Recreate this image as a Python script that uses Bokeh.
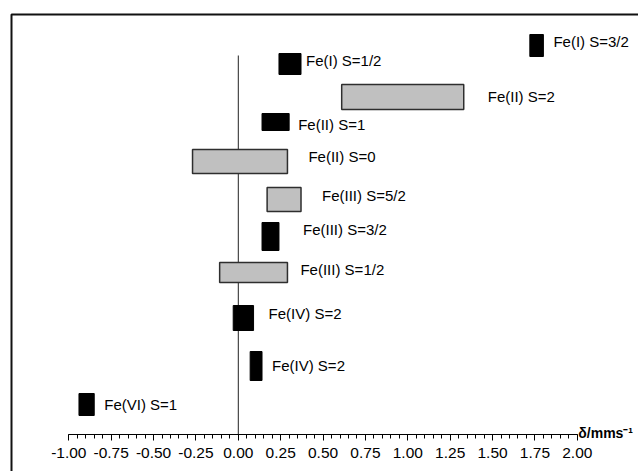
from bokeh.plotting import figure
from bokeh.models import (Range1d, LinearAxis, SingleIntervalTicker,
                          PrintfTickFormatter, BoxAnnotation, ColumnDataSource)
from bokeh.core.properties import value
from bokeh.embed import file_html
from bokeh.resources import INLINE

# ---------------- data ----------------
labels = ["Fe(I) S=3/2", "Fe(I) S=1/2", "Fe(II) S=2", "Fe(II) S=1",
          "Fe(II) S=0", "Fe(III) S=5/2", "Fe(III) S=3/2", "Fe(III) S=1/2",
          "Fe(IV) S=2", "Fe(IV) S=2", "Fe(VI) S=1"]
delta_min = [1.72, 0.24, 0.61, 0.14, -0.27, 0.17, 0.14, -0.11, -0.03, 0.07, -0.94]
delta_max = [1.80, 0.37, 1.33, 0.30, 0.29, 0.37, 0.24, 0.29, 0.09, 0.14, -0.85]
bar_kind = ["black", "black", "grey", "black", "grey", "grey",
            "black", "grey", "black", "black", "black"]
tick_step = 0.25
axis_bounds = (-1.0, 2.0)
axis_title = "δ/mms⁻¹"

# ---------------- layout (pixels / row units) ----------------
W, H = 638, 471
ZERO_PX = 237.8          # pixel x of delta = 0
PX_PER_UNIT = 169.5      # pixels per mm/s
AXIS_PY = 434            # pixel y of the axis line
ROW_PY = [45, 63.5, 96.5, 121.5, 161, 199, 236, 272, 317.5, 365.5, 404]
ROW_HPX = [22, 21, 25, 17, 24, 24, 28, 20, 25, 29, 22]
LABEL_DX = [10, 5, 24, 9, 21, 21, 24, 13, 15, 10, 10]
LABEL_DY = [-4, -4, -1, 2, -5, -4, -7, -3, -5, -1, 0]
ZERO_LINE_TOP_PY = 55

def py_to_y(py):
    return (AXIS_PY - py) / 10.0

yc = [py_to_y(v) for v in ROW_PY]
hh = [v / 20.0 for v in ROW_HPX]
fill_map = {"black": "black", "grey": "#c0c0c0"}
line_map = {"black": "black", "grey": "#2e2e2e"}

src = ColumnDataSource(dict(
    left=delta_min, right=delta_max,
    top=[c + h for c, h in zip(yc, hh)],
    bottom=[c - h for c, h in zip(yc, hh)],
    yc=yc, label=labels, dx=LABEL_DX, dy=LABEL_DY,
    fill=[fill_map[k] for k in bar_kind],
    line=[line_map[k] for k in bar_kind],
    lw=[1 if k == "black" else 1.5 for k in bar_kind],
))

x_start = -ZERO_PX / PX_PER_UNIT
x_end = (W - ZERO_PX) / PX_PER_UNIT

p = figure(width=W, height=H,
           x_range=Range1d(x_start, x_end),
           y_range=Range1d(py_to_y(H), py_to_y(0)),
           output_backend="svg", toolbar_location=None,
           x_axis_location=None, y_axis_location=None,
           min_border=0)
p.outline_line_color = None
p.grid.visible = False
p.background_fill_color = "white"
p.border_fill_color = "white"

# frame border (top and left only visible)
p.add_layout(BoxAnnotation(left=11, right=W + 20, top=14, bottom=H + 20,
                           left_units="canvas", right_units="canvas",
                           top_units="canvas", bottom_units="canvas",
                           fill_alpha=0, fill_color=None,
                           line_color="#111111", line_alpha=1.0, line_width=2))

# zero line
p.segment(x0=[0], y0=[0], x1=[0], y1=[py_to_y(ZERO_LINE_TOP_PY)],
          line_color="#222222", line_width=1)

# bars
p.quad(left="left", right="right", top="top", bottom="bottom", source=src,
       fill_color="fill", line_color="line", line_width="lw")

# labels
p.text(x="right", y="yc", text="label", x_offset="dx", y_offset="dy",
       source=src, text_font=value("Liberation Sans"), text_font_size="15px",
       text_baseline="middle", text_align="left", text_color="black")

# x axis drawn at delta-axis position
ax = LinearAxis(fixed_location=0, bounds=axis_bounds,
                ticker=SingleIntervalTicker(interval=tick_step, num_minor_ticks=5),
                formatter=PrintfTickFormatter(format="%.2f"))
ax.axis_line_color = "black"
ax.axis_line_width = 1
ax.major_tick_in = 0
ax.major_tick_out = 6
ax.minor_tick_in = 0
ax.minor_tick_out = 4
ax.major_tick_line_color = "black"
ax.minor_tick_line_color = "black"
ax.major_label_standoff = 7
ax.major_label_text_font = "Liberation Sans"
ax.major_label_text_font_size = "15.5px"
ax.major_label_text_color = "black"
p.add_layout(ax, "below")

# axis title
p.text(x=[axis_bounds[1]], y=[0], text=[axis_title], x_offset=[1], y_offset=[-2],
       text_font=value("Liberation Sans"), text_font_size="14px",
       text_font_style="bold", text_baseline="alphabetic", text_align="left",
       text_color="black")

open("out.html", "w").write(file_html(p, INLINE))
